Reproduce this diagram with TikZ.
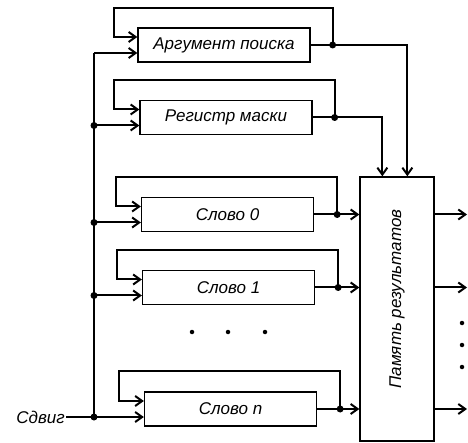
\documentclass[tikz,border=0pt]{standalone}
\usepackage{fontspec}
\setmainfont{Liberation Sans}
\usetikzlibrary{arrows.meta,calc}
\begin{document}
\begin{tikzpicture}[x=1pt,y=-1pt,
  txt/.style={font=\itshape\fontsize{17}{20}\selectfont},
  box/.style={draw, line width=1.3pt, minimum width=172pt, minimum height=34pt, inner sep=0pt, txt},
  wire/.style={line width=2pt},
  arr/.style={wire, -{Straight Barb[length=7pt,width=10pt]}},
  jdot/.style={circle, fill, inner sep=0pt, minimum size=7pt},
  sdot/.style={circle, fill, inner sep=0pt, minimum size=4.5pt}]
\useasboundingbox (0,0) rectangle (468,443);

% boxes
\node[box] (arg) at (224,45) {Аргумент поиска};
\node[box] (mask) at (226,117.5) {Регистр маски};
\node[box] (w0) at (227.5,214.5) {Слово 0};
\node[box] (w1) at (228.5,287.5) {Слово 1};
\node[box] (wn) at (230.5,409) {Слово n};
\node[draw, line width=1.3pt, minimum width=74pt, minimum height=264pt, inner sep=0pt] (mem) at (397,309) {};
\node[txt, rotate=90] (memlbl) at ($(mem.center)+(0,-10)$) {Память результатов};

% bus
\coordinate (bus) at (94,0);
\coordinate (sx) at (66,0);
\coordinate (ai) at ([yshift=-8pt]arg.west);
\coordinate (mi) at ([yshift=-8pt]mask.west);
\coordinate (w0i) at ([yshift=-8pt]w0.west);
\coordinate (w1i) at ([yshift=-8pt]w1.west);
\coordinate (wni) at ([yshift=-8pt]wn.west);
\node[txt, anchor=east, inner sep=1pt] (sd) at (wni -| sx) {Сдвиг};
\draw[wire] (ai -| bus) -- (wni -| bus);
\draw[arr] (ai -| bus) -- (ai);
\draw[arr] (mi -| bus) -- (mi);
\draw[arr] (w0i -| bus) -- (w0i);
\draw[arr] (w1i -| bus) -- (w1i);
\draw[arr] (sd.east) -- (wni);
\node[jdot] (bd1) at (mi -| bus) {};
\node[jdot] (bd2) at (w0i -| bus) {};
\node[jdot] (bd3) at (w1i -| bus) {};
\node[jdot] (bd4) at (wni -| bus) {};

% feedback loops
\coordinate (ja) at ($(arg.east)+(22,0)$);
\coordinate (ta) at ($(arg.north west)+(-23,-19)$);
\coordinate (jm) at ($(mask.east)+(22,0)$);
\coordinate (tm) at ($(mask.north west)+(-25,-20)$);
\coordinate (j0) at ($(w0.east)+(23,0)$);
\coordinate (t0) at ($(w0.north west)+(-25,-20)$);
\coordinate (j1) at ($(w1.east)+(23,0)$);
\coordinate (t1) at ($(w1.north west)+(-25,-20)$);
\coordinate (jn) at ($(wn.east)+(23,0)$);
\coordinate (tn) at ($(wn.north west)+(-25,-20)$);

\draw[wire] (arg.east) -- (ja);
\draw[arr] (ja) |- (ta) |- ([yshift=8pt]arg.west);
\draw[arr] (ja) -| ($(mem.north west)+(48,0)$);
\node[jdot] at (ja) {};

\draw[wire] (mask.east) -- (jm);
\draw[arr] (jm) |- (tm) |- ([yshift=8pt]mask.west);
\draw[arr] (jm) -| ($(mem.north west)+(23,0)$);
\node[jdot] at (jm) {};

\draw[wire] (w0.east) -- (j0);
\draw[arr] (j0) |- (t0) |- ([yshift=8pt]w0.west);
\draw[arr] (j0) -- (mem.west |- j0);
\node[jdot] at (j0) {};

\draw[wire] (w1.east) -- (j1);
\draw[arr] (j1) |- (t1) |- ([yshift=8pt]w1.west);
\draw[arr] (j1) -- (mem.west |- j1);
\node[jdot] at (j1) {};

\draw[wire] (wn.east) -- (jn);
\draw[arr] (jn) |- (tn) |- ([yshift=8pt]wn.west);
\draw[arr] (jn) -- (mem.west |- jn);
\node[jdot] at (jn) {};

% memory outputs
\coordinate (ox) at (467,0);
\draw[arr] (mem.east |- j0) -- (j0 -| ox);
\draw[arr] (mem.east |- j1) -- (j1 -| ox);
\draw[arr] (mem.east |- jn) -- (jn -| ox);

% ellipsis dots
\node[sdot] at (192,332) {};
\node[sdot] at (228,332) {};
\node[sdot] at (265,332) {};
\node[sdot] at (462,323) {};
\node[sdot] at (462,345) {};
\node[sdot] at (462,367) {};
\end{tikzpicture}
\end{document}
